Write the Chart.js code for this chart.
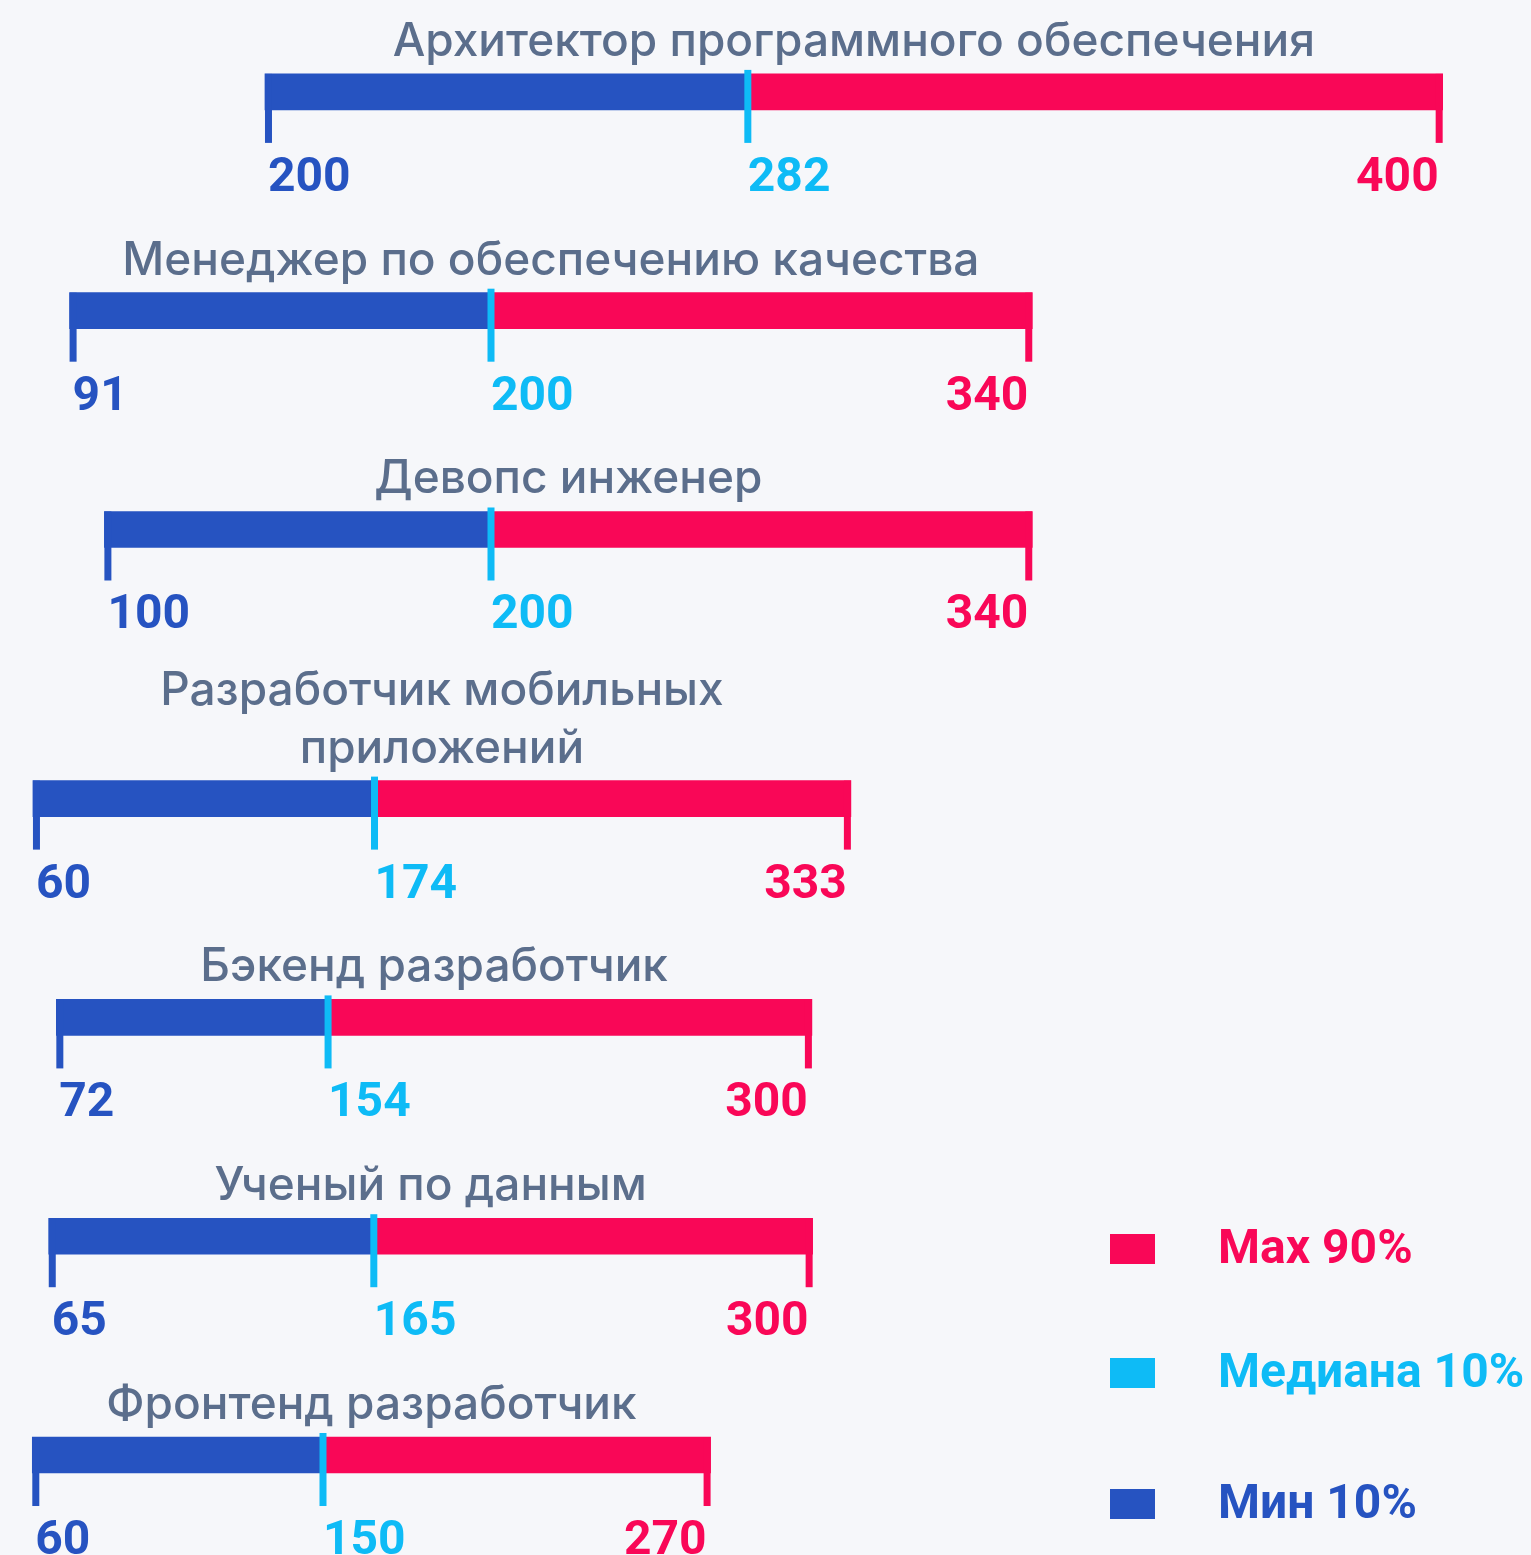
<!DOCTYPE html>
<html lang="ru">
<head>
<meta charset="utf-8">
<title>Зарплаты по профессиям</title>
<script src="https://cdn.jsdelivr.net/npm/chart.js@4.4.1/dist/chart.umd.min.js"></script>
<style>
  html, body { margin: 0; padding: 0; background: #f6f7fa; }
  #chart { display: block; }
</style>
</head>
<body>
<canvas id="chart" width="1531" height="1555"></canvas>
<script>
const jobs = [
  ["Архитектор программного обеспечения"],
  ["Менеджер по обеспечению качества"],
  ["Девопс инженер"],
  ["Разработчик мобильных", "приложений"],
  ["Бэкенд разработчик"],
  ["Ученый по данным"],
  ["Фронтенд разработчик"],
];
const minValues = [200, 91, 100, 60, 72, 65, 60];
const medianValues = [282, 200, 200, 174, 154, 165, 150];
const maxValues = [400, 340, 340, 333, 300, 300, 270];
const legendLabels = ["Max 90%", "Медиана 10%", "Мин 10%"];

// every row is drawn on its own range, like in the original picture
const rowRanges = [
  [155, 415], [73, 469], [73, 469], [49, 560], [55, 517], [50, 521], [50, 524],
];

const BLUE = "#2653c1";
const RED = "#f90757";
const CYAN = "#0ebbf6";
const GREY = "#5b6e8c";
const TITLE_FONT = "Inter, 'Noto Sans', sans-serif";
const NUM_FONT = "Roboto, 'Noto Sans', sans-serif";

// rows with a two line title get pushed down a bit
const rowPos = [];
let shift = 0;
jobs.forEach((lines, i) => {
  shift += (lines.length - 1) * 0.23;
  rowPos.push(i + shift);
});

const datasets = [];
const scales = {
  y: {
    type: "linear",
    reverse: true,
    offset: false,
    min: -0.42,
    max: rowPos[rowPos.length - 1] + 0.457,
    display: false,
  },
};
jobs.forEach((lines, i) => {
  datasets.push({
    label: legendLabels[2],
    xAxisID: "x" + i,
    data: [{ x: [minValues[i], medianValues[i]], y: rowPos[i] }],
    backgroundColor: BLUE,
  });
  datasets.push({
    label: legendLabels[0],
    xAxisID: "x" + i,
    data: [{ x: [medianValues[i], maxValues[i]], y: rowPos[i] }],
    backgroundColor: RED,
  });
  scales["x" + i] = {
    type: "linear",
    axis: "x",
    min: rowRanges[i][0],
    max: rowRanges[i][1],
    display: false,
  };
});

const rowDecor = {
  id: "rowDecor",
  afterDatasetsDraw(chart) {
    const ctx = chart.ctx;
    ctx.save();
    jobs.forEach((lines, i) => {
      const xs = chart.scales["x" + i];
      const bar = chart.getDatasetMeta(2 * i).data[0];
      const top = bar.y - bar.height / 2;
      const x0 = xs.getPixelForValue(minValues[i]);
      const xm = xs.getPixelForValue(medianValues[i]);
      const x1 = xs.getPixelForValue(maxValues[i]);

      // little marks under the bar
      ctx.fillStyle = BLUE;
      ctx.fillRect(x0, top, 7, 69);
      ctx.fillStyle = RED;
      ctx.fillRect(x1 - 7, top, 7, 69);
      ctx.fillStyle = CYAN;
      ctx.fillRect(xm - 3.5, top - 4, 7, 73);

      // values
      ctx.font = "bold 48px " + NUM_FONT;
      ctx.textBaseline = "alphabetic";
      ctx.textAlign = "left";
      ctx.fillStyle = BLUE;
      ctx.fillText(minValues[i], x0 + 3, top + 117);
      ctx.fillStyle = CYAN;
      ctx.fillText(medianValues[i], xm, top + 117);
      ctx.textAlign = "right";
      ctx.fillStyle = RED;
      ctx.fillText(maxValues[i], x1 - 4, top + 117);

      // title
      ctx.font = "500 46px " + TITLE_FONT;
      ctx.textAlign = "center";
      ctx.fillStyle = GREY;
      const cx = (x0 + x1) / 2;
      lines.forEach((line, j) => {
        ctx.fillText(line, cx, top - 18 - (lines.length - 1 - j) * 58);
      });
    });
    ctx.restore();
  },
};

const legendBox = {
  id: "legendBox",
  afterDraw(chart) {
    const ctx = chart.ctx;
    const colors = [RED, CYAN, BLUE];
    const offsets = [0, 124, 255];
    ctx.save();
    ctx.font = "bold 48px " + NUM_FONT;
    ctx.textAlign = "left";
    ctx.textBaseline = "middle";
    legendLabels.forEach((label, i) => {
      const y = 1234 + offsets[i];
      ctx.fillStyle = colors[i];
      ctx.fillRect(1110, y, 45, 30);
      ctx.fillText(label, 1218, y + 17);
    });
    ctx.restore();
  },
};

new Chart(document.getElementById("chart"), {
  type: "bar",
  data: { datasets: datasets },
  options: {
    indexAxis: "y",
    responsive: false,
    animation: false,
    layout: { padding: 0 },
    barThickness: 36,
    grouped: false,
    borderWidth: 0,
    borderSkipped: false,
    scales: scales,
    plugins: {
      legend: { display: false },
      tooltip: { enabled: false },
    },
  },
  plugins: [rowDecor, legendBox],
});
</script>
</body>
</html>
